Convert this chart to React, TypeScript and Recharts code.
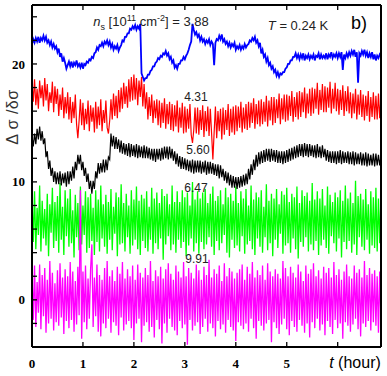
import { LineChart, Line, XAxis, YAxis } from "recharts";

// sample spacing of the traces, in hours
const STEP = 0.025;

const BLUE = [
  21.7, 22.1, 21.8, 22.2, 21.9, 22.3, 21.8, 22.2, 22.0, 22.4,
  22.0, 22.3, 21.8, 22.0, 21.6, 21.9, 21.4, 21.7, 21.3, 21.5,
  21.0, 21.3, 20.6, 20.9, 20.2, 20.5, 20.1, 19.6, 19.9, 20.2,
  19.8, 20.2, 19.7, 20.1, 19.9, 20.3, 19.8, 20.0, 19.7, 20.1,
  19.6, 20.0, 19.9, 20.2, 20.1, 20.4, 20.3, 20.6, 20.5, 20.9,
  21.0, 21.4, 21.2, 21.6, 21.5, 21.8, 21.5, 21.9, 21.7, 22.0,
  21.6, 21.9, 21.4, 21.7, 21.2, 21.5, 21.3, 21.6, 21.1, 21.4,
  21.6, 22.0, 21.9, 22.3, 22.3, 22.6, 22.6, 23.0, 22.9, 23.2,
  23.0, 23.3, 22.9, 23.2, 23.0, 23.4, 19.2, 18.9, 18.6, 18.8,
  18.8, 19.1, 19.1, 19.4, 19.5, 19.8, 19.8, 20.1, 20.2, 20.5,
  20.4, 20.7, 20.6, 20.9, 20.8, 21.1, 20.7, 20.9, 20.4, 20.6,
  20.1, 20.3, 19.7, 19.9, 19.6, 20.0, 20.0, 20.3, 20.3, 20.6,
  20.4, 20.7, 20.9, 21.2, 21.6, 21.9, 23.4, 22.9, 22.5, 22.7,
  22.3, 22.5, 22.0, 22.3, 21.9, 22.1, 21.7, 22.0, 21.8, 22.1,
  21.6, 21.9, 21.7, 19.9, 21.8, 22.1, 22.0, 22.4, 22.1, 22.5,
  21.9, 22.1, 21.7, 21.9, 21.5, 21.8, 21.4, 21.7, 21.5, 21.8,
  21.2, 21.5, 21.3, 21.6, 21.2, 21.5, 21.3, 21.7, 21.4, 21.6,
  21.7, 22.0, 21.9, 22.2, 22.0, 22.3, 21.8, 22.0, 21.5, 21.8,
  20.9, 21.2, 20.6, 20.8, 20.2, 20.5, 19.9, 20.1, 19.6, 19.8,
  19.3, 19.5, 19.0, 19.3, 18.9, 19.2, 19.1, 19.3, 19.3, 19.6,
  19.7, 20.0, 20.0, 20.3, 20.3, 20.6, 20.6, 20.9, 20.5, 20.8,
  20.4, 20.8, 20.5, 20.9, 20.3, 20.7, 20.5, 20.8, 20.4, 20.7,
  20.5, 20.8, 20.3, 20.7, 20.6, 20.9, 20.4, 20.8, 20.5, 20.7,
  20.5, 20.9, 20.4, 20.8, 20.6, 21.0, 20.5, 20.8, 20.6, 20.9,
  20.5, 20.9, 20.6, 21.0, 19.5, 20.8, 20.5, 20.9, 20.6, 21.0,
  20.7, 21.1, 20.8, 21.2, 20.6, 21.0, 18.4, 20.9, 20.7, 21.1,
  20.8, 21.2, 20.7, 21.0, 20.5, 20.9, 20.6, 21.0, 20.4, 20.8,
  20.3, 20.7, 20.5, 20.8, 20.6,
];

const RED = [
  18.4, 16.8, 18.7, 16.5, 17.9, 16.2, 18.6, 17.1, 18.2, 16.4,
  18.8, 16.9, 18.3, 16.0, 17.6, 16.7, 18.5, 15.9, 18.1, 16.6,
  17.9, 15.6, 17.4, 16.1, 18.0, 15.4, 17.2, 15.8, 17.6, 15.3,
  17.2, 15.0, 16.8, 15.4, 17.4, 14.9, 13.7, 15.2, 17.0, 14.8,
  16.7, 14.4, 16.2, 14.9, 16.9, 14.3, 16.5, 15.1, 16.3, 14.2,
  16.8, 14.5, 16.4, 14.8, 17.0, 14.3, 16.1, 15.0, 16.9, 14.6,
  14.1, 15.2, 17.0, 15.3, 17.5, 15.6, 17.3, 15.4, 17.8, 15.9,
  18.0, 16.2, 18.4, 16.6, 18.1, 16.3, 18.7, 16.8, 18.9, 16.9,
  19.1, 17.0, 18.8, 16.5, 18.6, 17.2, 18.9, 16.4, 18.3, 16.2,
  17.6, 15.3, 17.2, 15.6, 17.4, 15.0, 16.9, 15.4, 17.0, 14.8,
  16.9, 14.6, 16.7, 15.0, 17.1, 14.5, 16.6, 14.9, 16.8, 14.4,
  16.6, 14.3, 16.5, 14.7, 16.9, 14.2, 16.3, 14.6, 16.7, 14.1,
  16.4, 14.2, 16.2, 14.5, 16.6, 14.0, 13.3, 14.4, 16.3, 14.1,
  16.3, 14.0, 16.1, 14.4, 16.5, 13.8, 16.0, 14.3, 16.4, 13.9,
  16.2, 14.1, 11.9, 14.2, 16.4, 13.7, 16.0, 14.3, 16.2, 13.6,
  16.3, 14.0, 16.1, 14.4, 16.6, 13.9, 16.2, 14.2, 16.4, 14.0,
  16.5, 14.3, 16.4, 14.6, 16.8, 14.2, 16.3, 14.5, 16.6, 14.4,
  16.8, 14.6, 16.7, 15.0, 17.1, 14.5, 16.6, 14.9, 16.9, 14.7,
  17.0, 14.9, 16.8, 15.1, 17.3, 14.7, 16.9, 15.2, 17.2, 14.8,
  17.2, 15.0, 17.0, 15.4, 17.5, 14.9, 17.1, 15.3, 17.4, 15.1,
  17.4, 15.2, 17.3, 15.6, 17.7, 15.1, 17.2, 15.5, 17.6, 15.3,
  17.7, 15.5, 17.6, 15.9, 18.0, 15.4, 17.5, 15.8, 17.9, 15.6,
  18.0, 15.8, 17.9, 16.2, 18.4, 15.7, 17.8, 16.1, 18.3, 15.9,
  18.1, 15.9, 18.0, 16.3, 18.5, 15.8, 17.9, 16.2, 18.4, 16.0,
  17.9, 15.7, 17.8, 16.1, 18.2, 15.6, 17.7, 16.0, 18.1, 15.8,
  17.6, 15.4, 17.5, 15.8, 17.9, 15.3, 17.4, 15.7, 17.8, 15.5,
  17.4, 15.2, 17.3, 15.6, 17.7, 15.1, 17.2, 15.5, 17.6, 15.3,
  17.3, 15.3, 17.5, 15.4, 17.2,
];

const BLACK = [
  13.9, 13.0, 14.1, 13.2, 14.5, 13.6, 14.7, 13.5, 14.3, 13.2,
  13.7, 12.1, 12.6, 11.1, 11.8, 10.5, 11.2, 10.0, 10.9, 9.8,
  10.8, 9.8, 10.9, 9.7, 10.7, 9.9, 10.8, 9.6, 10.9, 9.8,
  10.9, 10.1, 11.3, 10.3, 11.7, 11.0, 12.3, 11.5, 12.3, 11.0,
  11.7, 10.5, 11.2, 10.0, 10.7, 9.4, 10.1, 9.0, 10.1, 9.4,
  10.9, 10.3, 11.6, 10.7, 11.6, 10.8, 11.9, 10.8, 11.9, 11.0,
  12.1, 11.9, 14.1, 13.0, 13.9, 12.8, 13.8, 12.8, 13.6, 12.5,
  13.5, 12.4, 13.3, 12.3, 13.2, 12.2, 13.3, 12.1, 13.2, 12.2,
  13.1, 12.1, 13.2, 12.0, 13.1, 12.1, 13.0, 12.0, 13.1, 12.0,
  13.0, 12.0, 12.9, 11.9, 12.8, 11.8, 12.8, 11.7, 12.8, 11.9,
  12.8, 11.8, 12.9, 11.9, 13.0, 12.0, 13.0, 11.9, 13.0, 12.0,
  12.8, 11.8, 12.6, 11.5, 12.4, 11.3, 12.2, 11.1, 12.1, 11.1,
  12.0, 11.0, 11.9, 10.9, 11.8, 10.8, 11.9, 10.7, 11.8, 10.8,
  11.8, 10.8, 11.8, 10.7, 11.7, 10.8, 11.8, 10.6, 11.7, 10.7,
  11.7, 10.7, 11.6, 10.6, 11.5, 10.5, 11.5, 10.3, 11.4, 10.4,
  11.1, 10.1, 10.9, 9.9, 10.8, 9.7, 10.6, 9.5, 10.5, 9.5,
  10.4, 9.4, 10.4, 9.5, 10.5, 9.6, 10.6, 9.7, 10.7, 9.8,
  11.1, 10.2, 11.5, 10.6, 11.9, 11.0, 12.3, 11.3, 12.5, 11.5,
  12.6, 11.6, 12.7, 11.7, 12.8, 11.8, 12.8, 11.7, 12.8, 11.8,
  12.7, 11.7, 12.7, 11.6, 12.6, 11.6, 12.6, 11.5, 12.6, 11.6,
  12.7, 11.7, 12.8, 11.8, 12.9, 11.9, 13.0, 12.0, 13.1, 12.1,
  13.2, 12.2, 13.2, 12.1, 13.3, 12.2, 13.2, 12.1, 13.2, 12.2,
  13.1, 12.1, 13.1, 12.0, 13.2, 12.1, 13.0, 12.0, 13.1, 12.1,
  12.8, 11.8, 12.7, 11.7, 12.6, 11.6, 12.6, 11.6, 12.6, 11.5,
  12.6, 11.6, 12.7, 11.5, 12.6, 11.6, 12.5, 11.6, 12.6, 11.5,
  12.5, 11.5, 12.6, 11.4, 12.5, 11.5, 12.4, 11.5, 12.5, 11.4,
  12.4, 11.4, 12.5, 11.3, 12.4, 11.4, 12.3, 11.4, 12.4, 11.3,
  12.4, 11.4, 12.3, 11.4, 12.2,
];

const GREEN = [
  8.6, 4.9, 9.2, 4.3, 7.8, 5.5, 9.7, 4.1, 8.4, 5.2,
  7.7, 4.6, 9.0, 3.7, 8.1, 5.7, 9.5, 4.4, 8.3, 5.0,
  8.8, 4.0, 9.9, 5.1, 7.9, 3.8, 9.3, 5.4, 8.6, 4.5,
  9.4, 4.8, 7.6, 3.6, 8.9, 5.3, 8.2, 4.2, 9.6, 4.7,
  8.0, 5.5, 9.2, 4.0, 8.7, 4.4, 9.0, 5.0, 7.8, 3.8,
  9.3, 4.9, 8.5, 4.1, 9.7, 5.2, 8.1, 4.5, 8.9, 3.9,
  8.3, 5.1, 9.4, 4.2, 7.9, 5.6, 9.1, 3.7, 8.7, 4.7,
  9.8, 4.8, 8.2, 4.1, 9.0, 5.3, 8.0, 3.9, 9.3, 4.6,
  8.5, 5.1, 9.6, 4.3, 8.4, 3.8, 8.9, 5.0, 8.6, 4.4,
  9.2, 4.1, 7.9, 5.1, 9.5, 3.9, 8.6, 4.8, 9.1, 4.3,
  8.2, 5.2, 9.4, 3.4, 8.8, 4.7, 9.0, 5.4, 8.1, 4.2,
  9.7, 4.7, 8.3, 4.0, 9.2, 5.1, 8.3, 4.4, 9.3, 4.9,
  8.7, 3.7, 9.1, 4.6, 8.0, 5.2, 10.0, 4.1, 8.5, 4.8,
  9.2, 3.9, 8.6, 4.9, 9.1, 4.3, 9.4, 4.7, 8.2, 5.3,
  9.0, 4.5, 9.6, 3.8, 8.4, 5.0, 8.8, 4.2, 9.3, 4.8,
  8.1, 5.5, 9.5, 4.0, 8.7, 3.6, 9.0, 5.1, 8.4, 4.4,
  9.6, 4.6, 8.2, 4.1, 9.2, 5.4, 8.6, 3.9, 9.4, 4.7,
  8.0, 5.0, 9.7, 4.3, 8.5, 3.8, 9.1, 5.2, 8.7, 4.5,
  9.3, 4.0, 7.9, 5.3, 9.8, 4.2, 8.4, 4.8, 9.0, 3.7,
  8.6, 5.1, 9.4, 4.4, 8.1, 5.6, 9.2, 3.9, 8.9, 4.6,
  9.5, 4.8, 8.3, 4.0, 9.0, 5.2, 8.7, 4.3, 9.6, 3.5,
  8.2, 4.9, 9.3, 4.5, 8.8, 5.3, 9.1, 4.1, 8.4, 4.7,
  9.9, 4.2, 8.5, 5.0, 9.2, 3.8, 8.6, 4.6, 9.4, 5.1,
  8.0, 4.4, 9.6, 3.9, 8.9, 5.4, 8.3, 4.8, 9.1, 4.1,
  8.7, 5.2, 9.3, 3.6, 8.4, 4.9, 9.7, 4.3, 8.6, 5.0,
  9.1, 4.0, 8.2, 4.7, 10.1, 3.8, 8.8, 5.3, 9.0, 4.5,
  8.5, 4.2, 9.4, 5.1, 8.1, 3.9, 9.2, 4.6, 8.7, 4.4,
  9.5, 4.1, 8.6, 4.8, 9.0,
];

const MAGENTA = [
  2.2, -1.7, 2.9, -2.3, 1.5, -1.1, 3.0, -2.5, 2.1, -1.4,
  2.7, -2.8, 1.7, -2.0, 3.3, -1.6, 2.3, -2.6, 1.4, -1.9,
  2.5, -2.2, 3.1, -1.5, 1.9, -2.9, 2.6, -1.8, 2.0, -2.4,
  3.2, -1.7, 2.4, -2.7, 1.6, -2.1, 2.8, -1.3, 9.3, -3.3,
  2.4, -1.9, 2.9, -2.5, 1.8, -1.6, 2.6, 4.7, -2.3, 1.9,
  -1.4, 3.0, -2.7, 2.1, -3.1, 1.7, -2.0, 2.7, -2.4, 3.3,
  -1.6, 2.0, -2.8, 2.5, -1.9, 1.6, -2.2, 2.8, -3.0, 2.2,
  -1.5, 3.2, -2.6, 1.8, -2.1, 2.6, -1.8, 2.0, -2.4, 2.9,
  -3.4, 1.7, -2.0, 3.0, -1.6, 2.3, -3.6, 1.9, -2.2, 2.7,
  -1.9, 2.1, -2.7, 3.3, -2.3, 1.6, -3.2, 2.5, -1.7, 2.0,
  -2.5, 2.8, -3.7, 1.8, -2.0, 2.6, -2.8, 3.1, -1.6, 2.2,
  -2.3, 1.7, -2.6, 2.9, -3.0, 2.4, -1.8, 1.9, -2.4, 3.2,
  -2.1, 2.0, -3.8, 2.7, -1.7, 2.3, -2.6, 1.8, -2.2, 3.0,
  -1.9, 2.5, -2.9, 1.7, -2.3, 2.8, -1.6, 2.1, -2.7, 3.4,
  -2.0, 1.9, -2.4, 2.6, -3.1, 2.2, -1.8, 2.9, -2.5, 1.6,
  -2.1, 3.1, -2.8, 2.0, -1.7, 2.7, -2.3, 2.4, -2.6, 1.8,
  -3.5, 2.3, -1.9, 2.6, -2.2, 3.0, -2.5, 1.7, -2.0, 2.8,
  -2.7, 2.2, -1.6, 3.2, -2.4, 1.9, -3.3, 2.5, -1.8, 2.1,
  -2.2, 2.9, -2.6, 1.7, -2.0, 3.1, -1.7, 2.4, -3.6, 2.0,
  -1.9, 2.6, -2.4, 2.2, -2.9, 1.8, -2.1, 3.3, -1.6, 2.7,
  -2.5, 2.0, -3.0, 2.8, -1.8, 2.3, -2.3, 1.9, -2.7, 3.0,
  -1.7, 2.4, -2.2, 1.6, -2.8, 2.9, -2.0, 2.2, -3.2, 2.6,
  -1.9, 3.1, -2.4, 2.0, -1.6, 2.5, -2.6, 1.8, -2.1, 2.8,
  -3.0, 2.3, -1.8, 2.7, -2.3, 1.9, -2.9, 3.2, -1.7, 2.1,
  -2.4, 2.6, -2.0, 1.7, -3.3, 2.4, -1.9, 3.0, -2.2, 2.0,
  -2.7, 1.8, -2.1, 2.9, -1.6, 2.3, -2.5, 2.6, -3.1, 1.9,
  -2.0, 3.3, -2.3, 2.1, -1.8, 2.7, -2.6, 2.2, -1.9, 2.5,
  -2.2, 2.0, -2.8, 2.4, -1.9,
];

const X_TICKS = [0, 1, 2, 3, 4, 5, 6];
const X_LABELS = ["0", "1", "2", "3", "4", "5", ""];
const Y_TICKS = [-2, 0, 2, 4, 6, 8, 10, 12, 14, 16, 18, 20, 22, 24];
const Y_LABELED = [0, 10, 20];

const rows = BLUE.map((v, i) => ({
  t: +(i * STEP).toFixed(3),
  blue: v,
  red: RED[i],
  black: BLACK[i],
  green: GREEN[i],
  magenta: MAGENTA[i],
}));

const serif = "'Liberation Serif', 'Times New Roman', serif";
const sans = "'Liberation Sans', Arial, sans-serif";

function BottomTick({ x, y, payload }: any) {
  const label = X_LABELS[X_TICKS.indexOf(payload.value)];
  return (
    <g>
      <line x1={x} x2={x} y1={y} y2={y - 5} stroke="#000" strokeWidth={1.3} />
      <text x={x} y={y + 21} textAnchor="middle" fontFamily={serif} fontWeight="bold" fontSize={13} fill="#000">
        {label}
      </text>
    </g>
  );
}

function TopTick({ x, y }: any) {
  return <line x1={x} x2={x} y1={y} y2={y + 5} stroke="#000" strokeWidth={1.3} />;
}

function LeftTick({ x, y, payload }: any) {
  const show = Y_LABELED.includes(payload.value);
  return (
    <g>
      <line x1={x} x2={x + 5} y1={y} y2={y} stroke="#000" strokeWidth={1.3} />
      {show && (
        <text x={x - 7} y={y} dy="0.35em" textAnchor="end" fontFamily={serif} fontWeight="bold" fontSize={13} fill="#000">
          {payload.value}
        </text>
      )}
    </g>
  );
}

function RightTick({ x, y }: any) {
  return <line x1={x} x2={x - 5} y1={y} y2={y} stroke="#000" strokeWidth={1.3} />;
}

const note = (left: number, top: number, extra: any = {}): any => ({
  position: "absolute",
  left,
  top,
  transform: "translate(-50%, -50%)",
  fontFamily: sans,
  fontSize: 12,
  color: "#222",
  whiteSpace: "nowrap",
  lineHeight: 1,
  ...extra,
});

const frame = { stroke: "#000", strokeWidth: 2 };

export default function App() {
  return (
    <div style={{ position: "absolute", left: 0, top: 0, width: 387, height: 376, background: "#fff" }}>
      <LineChart width={387} height={376} data={rows} margin={{ top: 4, right: 5, bottom: 28, left: 31 }}>
        <XAxis
          dataKey="t"
          type="number"
          domain={[0, 6.85]}
          ticks={X_TICKS}
          interval={0}
          height={1}
          tickSize={0}
          tickMargin={0}
          tickLine={false}
          tick={<BottomTick />}
          axisLine={frame}
        />
        <XAxis
          xAxisId="top"
          orientation="top"
          dataKey="t"
          type="number"
          domain={[0, 6.85]}
          ticks={X_TICKS}
          interval={0}
          height={1}
          tickSize={0}
          tickMargin={0}
          tickLine={false}
          tick={<TopTick />}
          axisLine={frame}
        />
        <YAxis
          type="number"
          domain={[-4, 25]}
          ticks={Y_TICKS}
          interval={0}
          width={1}
          tickSize={0}
          tickMargin={0}
          tickLine={false}
          tick={<LeftTick />}
          axisLine={frame}
        />
        <YAxis
          yAxisId="right"
          orientation="right"
          type="number"
          domain={[-4, 25]}
          ticks={Y_TICKS}
          interval={0}
          width={1}
          tickSize={0}
          tickMargin={0}
          tickLine={false}
          tick={<RightTick />}
          axisLine={frame}
        />
        <Line dataKey="green" stroke="#00ff00" strokeWidth={1.3} dot={false} isAnimationActive={false} />
        <Line dataKey="magenta" stroke="#ff00ff" strokeWidth={1.3} dot={false} isAnimationActive={false} />
        <Line dataKey="black" stroke="#000000" strokeWidth={1.2} dot={false} isAnimationActive={false} />
        <Line dataKey="red" stroke="#ff0000" strokeWidth={1.2} dot={false} isAnimationActive={false} />
        <Line dataKey="blue" stroke="#0000ff" strokeWidth={1.8} dot={false} isAnimationActive={false} />
      </LineChart>

      <div style={note(151, 23, { fontSize: 13 })}>
        <i>n</i>
        <sub style={{ fontSize: 9 }}>s</sub> [10<sup style={{ fontSize: 9 }}>11</sup> cm<sup style={{ fontSize: 9 }}>-2</sup>] = 3.88
      </div>
      <div style={note(298, 25, { fontSize: 13 })}>
        <i>T</i> = 0.24 K
      </div>
      <div style={note(359, 23, { fontSize: 18, color: "#000" })}>b)</div>
      <div style={note(196, 97)}>4.31</div>
      <div style={note(198, 150)}>5.60</div>
      <div style={note(196, 188)}>6.47</div>
      <div style={note(197, 259)}>9.91</div>
      <div style={note(355, 363, { fontSize: 16, color: "#000" })}>
        <i>t</i> (hour)
      </div>
      <div
        style={note(13, 117, {
          fontSize: 16,
          letterSpacing: 0.5,
          color: "#333",
          transform: "translate(-50%, -50%) rotate(-90deg)",
        })}
      >
        Δ σ /δσ
      </div>
    </div>
  );
}
